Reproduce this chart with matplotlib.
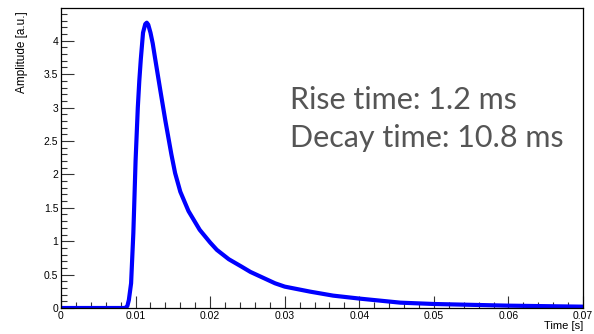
import matplotlib
matplotlib.use("Agg")
import matplotlib.pyplot as plt
from matplotlib.ticker import MultipleLocator, FormatStrFormatter

# pulse
time_s = [0.0, 0.0086, 0.0089, 0.0091, 0.0094, 0.0097, 0.0098, 0.0100, 0.0103,
          0.0105, 0.0107, 0.0110, 0.0113, 0.0115, 0.0117, 0.0120, 0.0123, 0.0126,
          0.0133, 0.0140, 0.0148, 0.0153, 0.0160, 0.0171, 0.0186, 0.0200, 0.0209,
          0.0225, 0.0242, 0.0254, 0.0287, 0.0300, 0.0334, 0.0365, 0.0401, 0.0455,
          0.0500, 0.0600, 0.0700]
amplitude = [0.0, 0.0, 0.03, 0.12, 0.37, 1.12, 1.47, 2.2, 3.0,
             3.4, 3.72, 4.12, 4.25, 4.27, 4.24, 4.12, 3.96, 3.75,
             3.27, 2.80, 2.30, 2.02, 1.74, 1.45, 1.17, 0.98, 0.87,
             0.73, 0.62, 0.54, 0.37, 0.32, 0.245, 0.185, 0.14, 0.08,
             0.06, 0.035, 0.02]

rise_label = "Rise time: 1.2 ms"
decay_label = "Decay time: 10.8 ms"

plt.rcParams['font.family'] = ['Liberation Sans', 'DejaVu Sans']

fig = plt.figure(figsize=(5.94, 3.34), dpi=100)
ax = fig.add_axes([61 / 594, 1 - 308 / 334, 522 / 594, 300 / 334])

ax.plot(time_s, amplitude, color="#0000ff", lw=3.0,
        solid_joinstyle="round", solid_capstyle="round")

ax.set_xlim(0, 0.07)
ax.set_ylim(0, 4.49)

ax.xaxis.set_major_locator(MultipleLocator(0.01))
ax.xaxis.set_minor_locator(MultipleLocator(0.002))
ax.yaxis.set_major_locator(MultipleLocator(0.5))
ax.yaxis.set_minor_locator(MultipleLocator(0.1))
ax.xaxis.set_major_formatter(FormatStrFormatter("%g"))
ax.yaxis.set_major_formatter(FormatStrFormatter("%g"))

ax.tick_params(which="both", direction="in", top=False, right=False,
               labelsize=7.5, color="#333333", width=0.8)
ax.tick_params(which="major", length=9, pad=2)
ax.tick_params(which="minor", length=4.5)

for s in ax.spines.values():
    s.set_linewidth(0.9)

ax.set_xlabel("Time [s]", fontsize=8, loc="right", labelpad=0)
ax.set_ylabel("Amplitude [a.u.]", fontsize=8.5, loc="top")
ax.yaxis.set_label_coords(-0.063, 0.99)

ax.text(0.4387, 0.662, rise_label, transform=ax.transAxes, fontsize=22,
        family="Lato", color="#555555", va="baseline")
ax.text(0.4387, 0.537, decay_label, transform=ax.transAxes, fontsize=22,
        family="Lato", color="#555555", va="baseline")

fig.savefig("out.png", dpi=100)
